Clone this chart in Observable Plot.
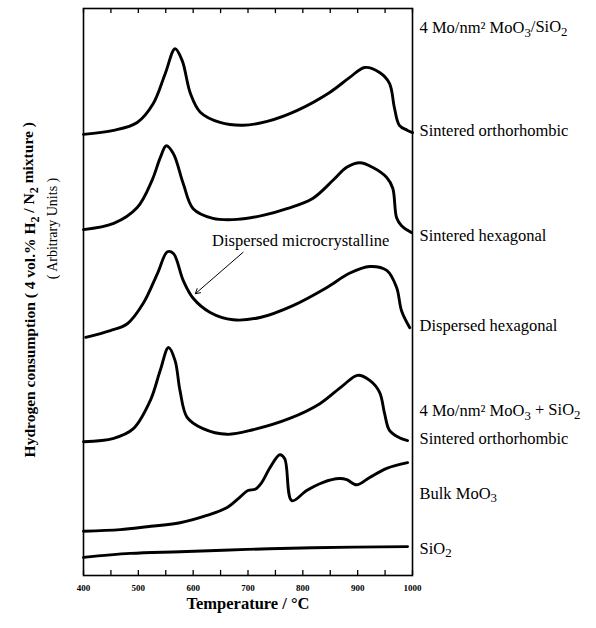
<!DOCTYPE html>
<html><head><meta charset="utf-8">
<script src="https://cdn.jsdelivr.net/npm/d3@7"></script>
<script src="https://cdn.jsdelivr.net/npm/@observablehq/plot@0.6"></script>
<style>body{margin:0;background:#fff}</style>
</head><body><div id="chart"></div>
<script>
// ---- data (temperature °C, hydrogen consumption in arbitrary units, curves offset as in the figure)
const t1 = [400,455,498,527,549,567,580,595,613,649,691,735,789,849,885,913,940,958,967,976,991,1000];
const v1 = [77.8,78.5,79.9,83.2,88.5,92.9,90.8,85.0,81.7,79.9,79.4,80.1,82.0,85.2,87.8,89.6,88.7,86.8,82.5,79.4,78.5,78.1];
const t2 = [400,455,498,525,540,551,564,582,600,636,680,727,771,818,855,880,904,927,953,964,971,980,998];
const v2 = [61.0,62.1,64.9,69.7,73.7,75.8,74.4,69.1,64.7,63.0,62.8,63.5,64.7,66.5,69.7,72.0,72.8,72.0,70.2,68.3,63.1,61.7,60.5];
const t3 = [404,449,480,509,535,553,564,582,600,631,673,722,782,844,885,922,953,971,980,995];
const v3 = [42.0,43.2,44.4,48.0,53.3,57.1,56.8,52.0,48.9,46.4,45.1,45.5,47.6,50.8,53.3,54.5,53.8,50.8,46.7,43.7];
const t4 = [400,455,491,522,540,555,567,576,589,618,662,709,776,831,873,900,922,940,949,958,976,991];
const v4 = [23.6,24.2,25.9,30.9,36.2,40.2,37.9,32.6,27.9,25.9,24.9,25.7,27.7,30.3,33.5,35.3,34.4,32.3,28.6,25.6,24.3,23.8];
const t5 = [400,467,516,576,625,662,685,700,713,725,740,758,767,780,807,836,867,880,898,922,953,991];
const v5 = [7.8,8.1,8.6,9.3,10.6,12.0,13.8,15.0,15.2,16.4,19.0,21.3,20.6,13.2,15.0,16.4,17.1,16.9,16.0,17.3,18.9,19.9];
const t6 = [400,485,576,698,818,991];
const v6 = [3.2,3.9,4.2,4.6,4.9,5.1];

const seriesNames = ["Sintered orthorhombic (supported)","Sintered hexagonal","Dispersed hexagonal",
  "Sintered orthorhombic (mixture)","Bulk MoO₃","SiO₂"];
const xTicks = [400,500,600,700,800,900,1000];
const xMinorTicks = [400,450,500,550,600,650,700,750,800,850,900,950,1000];
const rightLabels = ["4 Mo/nm² MoO₃/SiO₂","Sintered orthorhombic","Sintered hexagonal","Dispersed hexagonal",
  "4 Mo/nm² MoO₃ + SiO₂","Sintered orthorhombic","Bulk MoO₃","SiO₂"];
const annotationText = "Dispersed microcrystalline";
const xLabel = "Temperature / °C";
const yLabel = "Hydrogen consumption ( 4 vol.% H₂ / N₂ mixture )";
const yLabel2 = "( Arbitrary Units )";

// ---- build table
const curves = [[t1,v1],[t2,v2],[t3,v3],[t4,v4],[t5,v5],[t6,v6]];
const rows = curves.flatMap(([t,v],k) => t.map((T,i) => ({series: seriesNames[k], T, v: v[i]})));

// layout for labels (arbitrary-unit heights of the right-hand labels)
const labelY = [96.6,78.5,60.0,44.1,29.1,24.2,14.5,4.8];
const labelRows = rightLabels.map((s,i) => ({s, y: labelY[i]}));

const serif = "'Liberation Serif', 'Times New Roman', serif";

const plot = Plot.plot({
  width: 596, height: 628,
  marginLeft: 83, marginRight: 184, marginTop: 8, marginBottom: 53,
  style: {fontFamily: serif, background: "#fff", color: "#000"},
  x: {domain: [400,1000]},
  y: {domain: [0,100], axis: null},
  marks: [
    Plot.frame({stroke: "#000", strokeWidth: 1.6}),
    Plot.ruleX(xMinorTicks, {x: d => d, y1: 0, y2: 0.9, stroke: "#000", strokeWidth: 1.3}),
    Plot.ruleX(xMinorTicks, {x: d => d, y1: 100, y2: 99.1, stroke: "#000", strokeWidth: 1.3}),
    Plot.axisX({anchor: "bottom", ticks: xTicks, tickSize: 0, tickPadding: 9, tickFormat: d => String(d),
      fontSize: 9, fontWeight: "bold", label: null}),
    Plot.text([xLabel], {frameAnchor: "bottom", dy: 33, text: d => d, fontSize: 16.5, fontWeight: "bold"}),
    Plot.text([yLabel], {frameAnchor: "left", y: 50.4, dx: -53, rotate: -90, textAnchor: "middle",
      text: d => d, fontSize: 15.5, fontWeight: "bold"}),
    Plot.text([yLabel2], {frameAnchor: "left", y: 61.2, dx: -31, rotate: -90, textAnchor: "middle",
      text: d => d, fontSize: 14}),
    Plot.line(rows, {x: "T", y: "v", z: "series", stroke: "#000", strokeWidth: 2.9, curve: "catmull-rom",
      strokeLinejoin: "round", strokeLinecap: "round"}),
    Plot.arrow([{x1: 691, y1: 57.0, x2: 604, y2: 49.7}], {x1: "x1", y1: "y1", x2: "x2", y2: "y2",
      stroke: "#000", strokeWidth: 1, headLength: 8, bend: 0}),
    Plot.text([annotationText], {x: 796, y: 59.1, text: d => d, fontSize: 16.5}),
    Plot.text(labelRows, {x: 1000, y: "y", dx: 7, text: "s", textAnchor: "start", fontSize: 16.5})
  ]
});

// render sub-/superscript digits as shifted tspans
d3.select(plot).selectAll("text").each(function() {
  const s = this.textContent;
  if (!/[₂₃]/.test(s) || this.querySelector("tspan")) return;
  const parts = s.split(/([₂₃])/);
  this.textContent = "";
  let shifted = false;
  for (const p of parts) {
    if (!p) continue;
    const ts = document.createElementNS("http://www.w3.org/2000/svg", "tspan");
    if (p === "₂" || p === "₃") {
      ts.textContent = p === "₂" ? "2" : "3";
      ts.setAttribute("font-size", "0.78em");
      ts.setAttribute("dy", shifted ? "0" : "0.3em");
      shifted = true;
    } else {
      ts.textContent = p;
      if (shifted) { ts.setAttribute("dy", "-0.3em"); shifted = false; }
    }
    this.appendChild(ts);
  }
});

document.getElementById("chart").appendChild(plot);
</script></body></html>
